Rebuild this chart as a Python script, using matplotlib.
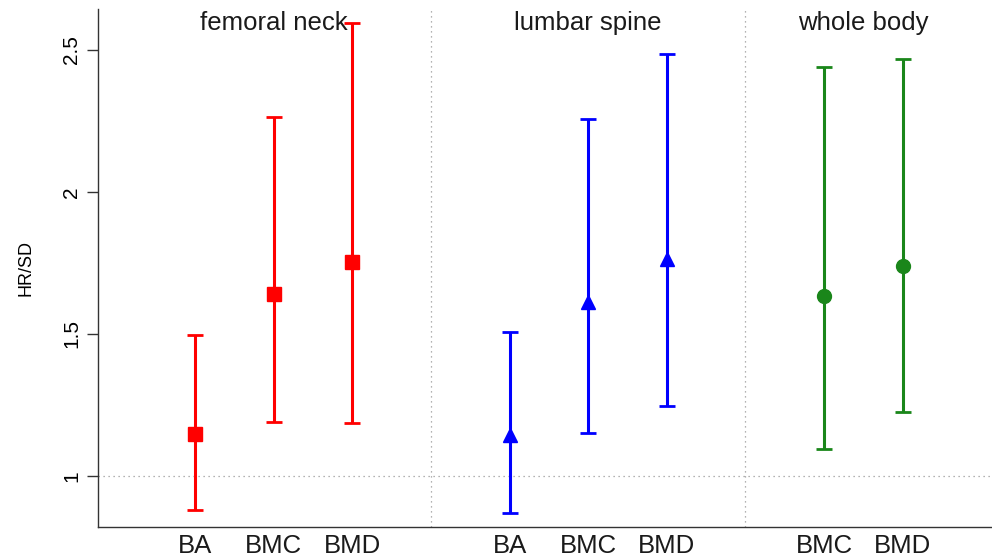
import matplotlib.pyplot as plt

# =========================================================
# DATA
# =========================================================

groups = ["femoral neck", "lumbar spine", "whole body"]
group_labels = [["BA", "BMC", "BMD"], ["BA", "BMC", "BMD"], ["BMC", "BMD"]]

fn_hr = [1.148, 1.641, 1.755]
fn_low = [0.881, 1.189, 1.188]
fn_high = [1.497, 2.263, 2.593]

ls_hr = [1.144, 1.612, 1.764]
ls_low = [0.869, 1.150, 1.247]
ls_high = [1.506, 2.255, 2.485]

wb_hr = [1.635, 1.738]
wb_low = [1.097, 1.226]
wb_high = [2.439, 2.469]

yticks = [1, 1.5, 2, 2.5]
ytick_labels = ["1", "1.5", "2", "2.5"]

# =========================================================
# STYLE
# =========================================================

plt.rcParams.update({
    "font.family": ["Liberation Sans", "DejaVu Sans"],
    "font.size": 15,
})

series = [
    (fn_hr, fn_low, fn_high, [1, 2, 3], "#ff0000", "s", 9.5),
    (ls_hr, ls_low, ls_high, [5, 6, 7], "#0000ff", "^", 10.5),
    (wb_hr, wb_low, wb_high, [9, 10], "#1a861a", "o", 10),
]

# =========================================================
# FIGURE
# =========================================================

fig = plt.figure(figsize=(9.92, 5.58), dpi=100)
ax = fig.add_axes([0.0988, 0.0556, 0.9012, 0.928])

ax.axhline(1, color="#999999", linestyle=(0, (1, 3)), linewidth=0.9, zorder=1)
for xd in [4, 8]:
    ax.axvline(xd, color="#999999", linestyle=(0, (1, 3)), linewidth=0.9, zorder=1)

title_x = [2, 6, 9.5]
for name, tx in zip(groups, title_x):
    ax.text(tx, 0.973, name, transform=ax.get_xaxis_transform(),
            ha="center", va="center", fontsize=18.5, color="#1a1a1a", zorder=2)

xpos_all = []
xlab_all = []
for (hr, lo, hi, xs, col, mk, ms), labs in zip(series, group_labels):
    yerr = [[h - l for h, l in zip(hr, lo)], [u - h for h, u in zip(hr, hi)]]
    ax.errorbar(xs, hr, yerr=yerr, fmt=mk, color=col, ecolor=col,
                markersize=ms, elinewidth=2.2, capsize=5.5, capthick=2.0,
                zorder=3)
    xpos_all += xs
    xlab_all += labs

# =========================================================
# AXES
# =========================================================

ax.set_xlim(-0.234, 11.136)
ax.set_ylim(0.821, 2.643)

ax.set_xticks(xpos_all)
ax.set_xticklabels(xlab_all, fontsize=18.5, color="#1a1a1a")
ax.tick_params(axis="x", length=0, pad=5)

ax.set_yticks(yticks)
ax.set_yticklabels(ytick_labels, rotation=90, va="center", fontsize=15)
ax.tick_params(axis="y", length=8, width=1, pad=4, color="#333333")

ax.set_ylabel("HR/SD", fontsize=13, labelpad=20)

for s in ["top", "right"]:
    ax.spines[s].set_visible(False)
for s in ["left", "bottom"]:
    ax.spines[s].set_color("#333333")
    ax.spines[s].set_linewidth(1.0)

plt.savefig("out.png", dpi=100)
